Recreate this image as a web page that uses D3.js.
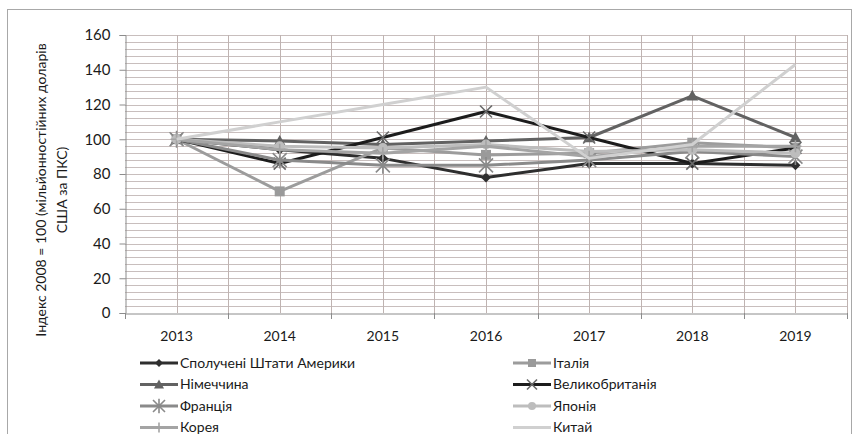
<!DOCTYPE html>
<html>
<head>
<meta charset="utf-8">
<script src="https://cdn.jsdelivr.net/npm/d3@7"></script>
<style>
  html, body { margin: 0; padding: 0; background: #fff; }
  svg { display: block; font-family: Lato, "Open Sans", "DejaVu Sans", sans-serif; }
</style>
</head>
<body>
<svg id="chart" width="862" height="434"></svg>
<script>
// Years on the category axis
const years = ["2013", "2014", "2015", "2016", "2017", "2018", "2019"];
const yTicks = [0, 20, 40, 60, 80, 100, 120, 140, 160];

// Index values per country (2008 = 100)
const usa     = [100, 94, 89, 78, 86, 86, 85];
const italy   = [100, 70, 95, 91, 92, 98, 95];
const germany = [100, 99, 97, 99, 101, 125, 101];
const uk      = [100, 86, 101, 116, 101, 86, 95];
const france  = [100, 88, 85, 85, 88, 93, 90];
const japan   = [100, 96, 95, 97, 93, 94, 92];
const korea   = [100, 94, 92, 96, 90, 96, 96];
const china   = [100, 110, 120, 130, 89, 97, 143];

const seriesNames = ["Сполучені Штати Америки", "Італія", "Німеччина", "Великобританія",
                     "Франція", "Японія", "Корея", "Китай"];
const seriesValues = [usa, italy, germany, uk, france, japan, korea, china];
const seriesLine   = ["#2e2e2e", "#9c9c9c", "#626262", "#1c1c1c", "#8a8a8a", "#bdbdbd", "#a4a4a4", "#d0d0d0"];
const seriesMarker = ["#2e2e2e", "#9a9a9a", "#626262", "#6a6a6a", "#8a8a8a", "#bdbdbd", "#a4a4a4", null];
const seriesShape  = ["diamond", "square", "triangle", "x", "asterisk", "circle", "plus", "none"];

const textFont = "Lato, 'Open Sans', sans-serif";
const svg = d3.select("#chart");

// Outer frame
svg.append("rect").attr("x", 7.5).attr("y", 9.5).attr("width", 844).attr("height", 430)
  .attr("fill", "#fff").attr("stroke", "#a8a8a8").attr("stroke-width", 1);

const plotLeft = 125, plotRight = 847, plotTop = 35, plotBottom = 313;
const x = d3.scaleBand().domain(years).range([plotLeft, plotRight]).padding(0);
const cx = d => x(d) + x.bandwidth() / 2;
const y = d3.scaleLinear().domain([0, 160]).range([plotBottom, plotTop]);

const gridColor = "#c8bebd";

// Horizontal grid (every 4 units)
const g = svg.append("g");
g.selectAll("line.h").data(d3.range(4, 161, 4)).join("line")
  .attr("x1", plotLeft).attr("x2", plotRight)
  .attr("y1", d => Math.round(y(d)) + 0.5).attr("y2", d => Math.round(y(d)) + 0.5)
  .attr("stroke", gridColor).attr("stroke-width", 1);

// Vertical grid at category edges and centres
const vgrid = [];
years.forEach(yr => { vgrid.push(x(yr)); vgrid.push(cx(yr)); });
vgrid.push(plotRight);
g.selectAll("line.v").data(vgrid.slice(1)).join("line")
  .attr("x1", d => Math.round(d) + 0.5).attr("x2", d => Math.round(d) + 0.5)
  .attr("y1", plotTop).attr("y2", plotBottom)
  .attr("stroke", "#bfb3b1").attr("stroke-width", 1);

// Axes
const yAxis = d3.axisLeft(y).tickValues(yTicks).tickSize(6).tickPadding(9);
const yG = svg.append("g").attr("transform", `translate(${plotLeft + 0.5},0)`).call(yAxis);
yG.select(".domain").attr("stroke", "#8c8c8c");
yG.selectAll(".tick line").attr("stroke", "#8c8c8c");
yG.selectAll(".tick text").attr("font-size", 15).attr("fill", "#1a1a1a")
  .attr("font-family", textFont);

const xAxis = d3.axisBottom(x).tickSize(0).tickPadding(18);
const xG = svg.append("g").attr("transform", `translate(0,${plotBottom + 0.5})`).call(xAxis);
xG.select(".domain").attr("stroke", "#8c8c8c");
xG.selectAll(".tick text").attr("font-size", 14).attr("fill", "#1a1a1a")
  .attr("font-family", textFont);
// Tick marks at category boundaries
svg.append("g").selectAll("line").data(years.map(yr => x(yr)).concat([plotRight])).join("line")
  .attr("x1", d => Math.round(d) + 0.5).attr("x2", d => Math.round(d) + 0.5)
  .attr("y1", plotBottom).attr("y2", plotBottom + 6)
  .attr("stroke", "#8c8c8c");

// Y axis title
const yTitle = svg.append("text")
  .attr("transform", `translate(46,190) rotate(-90)`)
  .attr("text-anchor", "middle").attr("font-size", 14).attr("fill", "#1a1a1a")
  .attr("font-family", textFont);
yTitle.append("tspan").attr("x", 0).attr("dy", 0).text("Індекс 2008 = 100 (мільйонностійних доларів");
yTitle.append("tspan").attr("x", 0).attr("dy", 21).text("США за ПКС)");

// Marker drawing
function drawMarker(sel, shape, color, px, py, s) {
  const m = sel.append("g").attr("transform", `translate(${px},${py})`);
  if (shape === "diamond") {
    m.append("path").attr("d", `M0,${-s}L${s},0L0,${s}L${-s},0Z`).attr("fill", color);
  } else if (shape === "square") {
    m.append("rect").attr("x", -s).attr("y", -s).attr("width", 2 * s).attr("height", 2 * s).attr("fill", color);
  } else if (shape === "triangle") {
    m.append("path").attr("d", `M0,${-s}L${s},${s * 0.8}L${-s},${s * 0.8}Z`).attr("fill", color);
  } else if (shape === "circle") {
    m.append("circle").attr("r", s).attr("fill", color);
  } else if (shape === "x") {
    m.append("path").attr("d", `M${-s},${-s}L${s},${s}M${-s},${s}L${s},${-s}`)
      .attr("stroke", color).attr("stroke-width", 1.6);
  } else if (shape === "asterisk") {
    m.append("path").attr("d", `M${-s},${-s}L${s},${s}M${-s},${s}L${s},${-s}M0,${-s * 1.2}L0,${s * 1.2}`)
      .attr("stroke", color).attr("stroke-width", 1.6);
  } else if (shape === "plus") {
    m.append("path").attr("d", `M0,${-s}L0,${s}M${-s},0L${s},0`)
      .attr("stroke", color).attr("stroke-width", 1.6);
  }
}

const line = d3.line().x((d, i) => cx(years[i])).y(d => y(d));
const markerSize = { diamond: 5, square: 5, triangle: 6, circle: 5, x: 6, asterisk: 7, plus: 6 };

seriesValues.forEach((vals, k) => {
  const sg = svg.append("g");
  sg.append("path").datum(vals).attr("d", line)
    .attr("fill", "none").attr("stroke", seriesLine[k]).attr("stroke-width", 3)
    .attr("stroke-linejoin", "round");
  if (seriesShape[k] !== "none") {
    vals.forEach((v, i) => drawMarker(sg, seriesShape[k], seriesMarker[k], cx(years[i]), y(v), markerSize[seriesShape[k]]));
  }
});

// Legend: two columns, row-major order
const legend = svg.append("g");
const colX = [140, 513];
const rowY = [363, 384.5, 406, 427.5];
seriesNames.forEach((name, k) => {
  const col = k % 2, row = Math.floor(k / 2);
  const lx = colX[col], ly = rowY[row];
  const lg = legend.append("g");
  lg.append("line").attr("x1", lx).attr("x2", lx + 38).attr("y1", ly).attr("y2", ly)
    .attr("stroke", seriesLine[k]).attr("stroke-width", 3);
  if (seriesShape[k] !== "none") drawMarker(lg, seriesShape[k], seriesMarker[k], lx + 19, ly, markerSize[seriesShape[k]] - 1);
  lg.append("text").attr("x", lx + 40).attr("y", ly).attr("dy", "0.35em")
    .attr("font-size", 14).attr("fill", "#1a1a1a")
    .attr("font-family", textFont)
    .text(name);
});
</script>
</body>
</html>
